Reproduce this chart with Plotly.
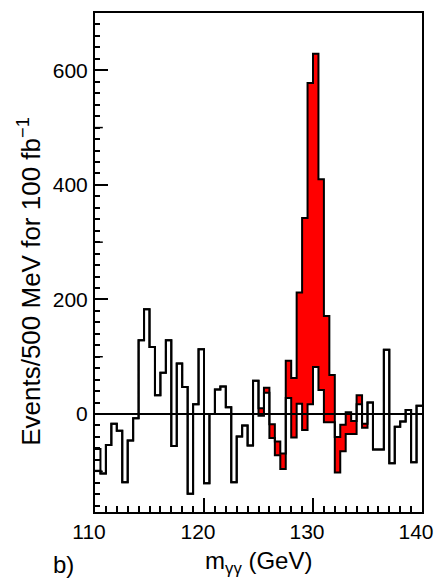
import numpy as np
import plotly.graph_objects as go

# ---- data ----
bin_lo = 110.0
bin_width = 0.5
n_bins = 60

# background-only residuals (white histogram)
bkg_only = [
    -61, -104, -54, -17, -29, -119, -46, -7.5, 129, 183,
    117, 33, 72, 129, -56, 88, 47, -139, 17, 113,
    -121, 0, 43, 48, 12, -119, -39, -20, -55, 58,
    -3, 37, -42, -72, -96, 28, -41, 18, -28, 17,
    82, 42, -14.5, -14.5, -102, -65, -35, -35, 17, -24,
    20, -62, -62, 112, -86, -22, -13, 7, -84, 14.5,
]

# signal + background residuals (red-filled histogram)
sig_plus_bkg = [
    -99, -104, -54, -17, -29, -119, -46, -7.5, 129, 183,
    117, 33, 72, 129, -56, 88, 47, -139, 17, 113,
    -121, 0, 43, 48, 12, -119, -39, -20, -55, 58,
    10, 46, -18, -48, -69, 93, 63, 212, 342, 578,
    629, 410, 171, 68, -40, -18.5, 3, -12, 33, -17,
    20, -62, -62, 112, -86, -22, -13, 7, -84, 14.5,
]

x_tick_vals = [110, 120, 130, 140]
y_tick_vals = [0, 200, 400, 600]
y_mid_ticks = [-100, 100, 300, 500]

# ---- derived ----
edges = bin_lo + bin_width * np.arange(n_bins + 1)
centers = edges[:-1] + bin_width / 2
A = np.array(sig_plus_bkg, dtype=float)
B = np.array(bkg_only, dtype=float)
diff = np.where(A > B, A - B, 0.0)

def step_y(v):
    return list(v) + [v[-1]]

fig = go.Figure()

fig.add_trace(go.Bar(
    x=centers, y=diff, base=B, width=bin_width,
    marker=dict(color="#ff0000", line=dict(width=0)),
    showlegend=False, hoverinfo="skip",
))
fig.add_trace(go.Scatter(
    x=edges, y=step_y(A), mode="lines", line=dict(shape="hv", color="black", width=2),
    showlegend=False,
))
fig.add_trace(go.Scatter(
    x=edges, y=step_y(B), mode="lines", line=dict(shape="hv", color="black", width=2),
    showlegend=False,
))

# zero line on top
fig.add_shape(type="line", xref="paper", x0=0, x1=1, yref="y", y0=0, y1=0,
              line=dict(color="black", width=2), layer="above")

# medium ticks on y axis
for yv in y_mid_ticks:
    fig.add_shape(type="line", xref="paper", x0=0, x1=8 / 335, yref="y", y0=yv, y1=yv,
                  line=dict(color="black", width=1.5), layer="above")

font_family = "Liberation Sans, Arial, sans-serif"

fig.update_layout(
    width=445, height=579, autosize=False,
    margin=dict(l=95, r=15, t=11, b=67, pad=0),
    plot_bgcolor="white", paper_bgcolor="white",
    font=dict(family=font_family, color="black", size=21),
    bargap=0,
    xaxis=dict(
        range=[110, 140], tickvals=x_tick_vals, ticks="inside", ticklen=14, tickwidth=1.5,
        tickcolor="black", showline=True, linecolor="black", linewidth=2, mirror=True,
        showgrid=False, zeroline=False, tickfont=dict(size=21),
        minor=dict(dtick=1, ticks="inside", ticklen=6, tickwidth=1.5, tickcolor="black", showgrid=False),
        ticklabelstandoff=0, ticklabelshift=-6, ticklabeloverflow="allow",
    ),
    yaxis=dict(
        range=[-171, 700], tickvals=y_tick_vals, ticks="inside", ticklen=13, tickwidth=1.5,
        tickcolor="black", showline=True, linecolor="black", linewidth=2, mirror=True,
        showgrid=False, zeroline=False, tickfont=dict(size=21),
        minor=dict(dtick=20, tick0=0, ticks="inside", ticklen=5, tickwidth=1.5, tickcolor="black", showgrid=False),
        ticklabelstandoff=1,
    ),
    annotations=[
        dict(text="Events/500 MeV for 100 fb<sup>\u22121</sup>", textangle=-90,
             xref="paper", yref="paper", x=(28 - 95) / 335, y=(511.7 - 280) / 501,
             xanchor="center", yanchor="middle", showarrow=False, font=dict(size=26)),
        dict(text="m<sub>\u03b3\u03b3</sub> (GeV)",
             xref="paper", yref="paper", x=0.5, y=(511.7 - 562) / 501,
             xanchor="center", yanchor="middle", showarrow=False, font=dict(size=24)),
        dict(text="b)",
             xref="paper", yref="paper", x=(63 - 95) / 335, y=(511.7 - 564) / 501,
             xanchor="center", yanchor="middle", showarrow=False, font=dict(size=24)),
    ],
)

fig.write_html("out.html", config={"displayModeBar": False},
               post_script="document.body.style.margin='0';")
